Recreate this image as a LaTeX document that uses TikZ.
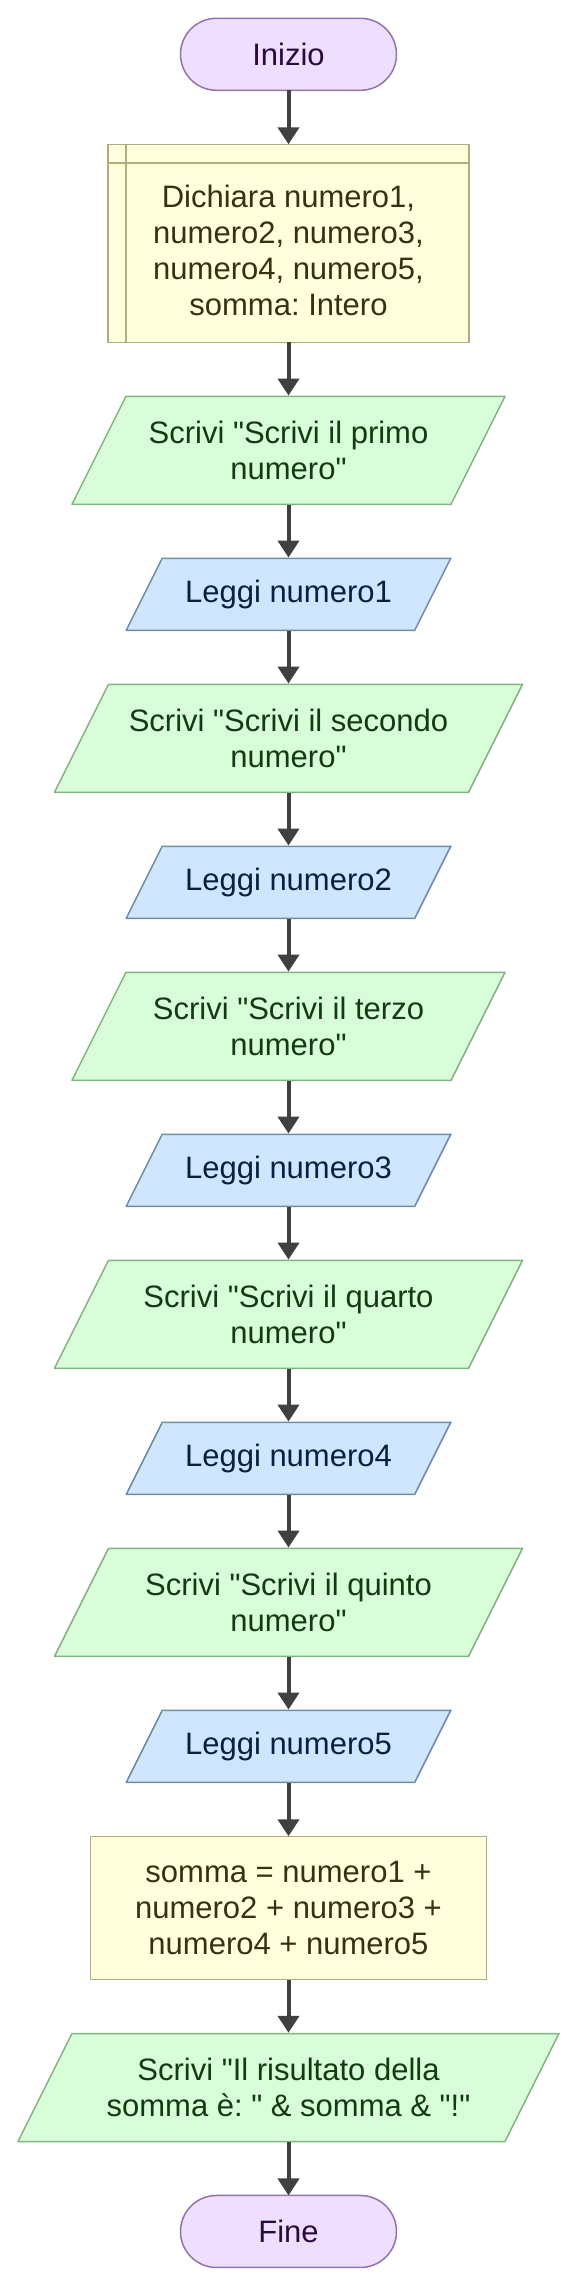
\documentclass[tikz,border=0pt]{standalone}
\usepackage{fontspec}
\newfontfamily\chartfont{Liberation Sans}
\usepackage{tikz}
\usetikzlibrary{shapes.geometric, arrows.meta, positioning, calc}
\definecolor{termfill}{HTML}{EDDFFD}
\definecolor{termline}{HTML}{9474A8}
\definecolor{termtext}{HTML}{2B0A3D}
\definecolor{procfill}{HTML}{FFFFDE}
\definecolor{procline}{HTML}{AEAE7C}
\definecolor{proctext}{HTML}{33330F}
\definecolor{writefill}{HTML}{D9FCD9}
\definecolor{writeline}{HTML}{82B482}
\definecolor{writetext}{HTML}{0F3D0F}
\definecolor{readfill}{HTML}{D0E6FE}
\definecolor{readline}{HTML}{6F8BA8}
\definecolor{readtext}{HTML}{0B2040}
\definecolor{flowgray}{HTML}{404040}
\tikzset{
  box/.style={draw, line width=1.5pt, outer sep=0pt, inner sep=2pt, align=center,
    font=\chartfont\fontsize{31}{36}\selectfont\frenchspacing},
  term/.style={box, rectangle, rounded corners=36pt, minimum width=216pt,
    minimum height=72pt, fill=termfill, draw=termline, text=termtext},
  procbox/.style={box, rectangle, fill=procfill, draw=procline, text=proctext},
  % parallelogram drawn inside the node box, slant = half the height
  para/.style 2 args={box, rectangle, draw=none, inner sep=0pt,
    path picture={\draw[fill=#1, draw=#2, line width=1.5pt]
      let \p1=(path picture bounding box.south west), \p2=(path picture bounding box.north east),
      \n1={(\y2-\y1)/2-0.75pt} in
      (\x1+0.75pt,\y1+0.75pt) -- (\x2-0.75pt-\n1,\y1+0.75pt) -- (\x2-0.75pt,\y2-0.75pt)
      -- (\x1+0.75pt+\n1,\y2-0.75pt) -- cycle;}},
  writebox/.style={para={writefill}{writeline}, minimum height=109.5pt, text=writetext},
  readbox/.style={para={readfill}{readline}, minimum width=326pt, minimum height=73.5pt,
    text=readtext},
  flow/.style={line width=4pt, draw=flowgray, -{Triangle[length=17pt,width=21pt]}}
}
\begin{document}
\begin{tikzpicture}[x=1pt, y=1pt]
\useasboundingbox (0,0) rectangle (577,-2287);
% Start and declarations
\node[term] (inizio) at (288.5,-54.3) {Inizio};
\node[procbox, minimum width=361.4pt, minimum height=198pt, below=54pt of inizio] (decl)
  {\rule{0pt}{37pt}Dichiara numero1,\\ numero2, numero3,\\ numero4, numero5,\\ somma: Intero};
\draw[procline, line width=1.5pt] ([xshift=18pt]decl.north west) -- ([xshift=18pt]decl.south west);
\draw[procline, line width=1.5pt] ([yshift=-18.7pt]decl.north west) -- ([yshift=-18.7pt]decl.north east);
% Read the five numbers
\foreach \i/\ord/\w in {1/primo/434.5, 2/secondo/469.5, 3/terzo/434.5, 4/quarto/469.5, 5/quinto/469.5}{
  \node[writebox, minimum width=\w pt] (scr\i) at (288.5, -450.3-288*\i+288)
    {Scrivi "Scrivi il \ord\\ numero"};
  \node[readbox] (leg\i) at (288.5, -594.3-288*\i+288) {Leggi numero\i};
}
% Sum, output and end
\node[procbox, minimum width=396.3pt, minimum height=143.3pt, below=53.2pt of leg5] (somma)
  {somma = numero1 +\\ numero2 + numero3 +\\ numero4 + numero5};
\node[writebox, minimum width=542.5pt, below=53.2pt of somma] (ris)
  {Scrivi "Il risultato della\\ somma è: " \& somma \& "!"};
\node[term, below=53.2pt of ris] (fine) {Fine};
\foreach \a/\b in {inizio/decl, decl/scr1, scr1/leg1, leg1/scr2, scr2/leg2, leg2/scr3,
    scr3/leg3, leg3/scr4, scr4/leg4, leg4/scr5, scr5/leg5, leg5/somma, somma/ris, ris/fine}
  \draw[flow] (\a.south) -- (\b.north);
\end{tikzpicture}
\end{document}
